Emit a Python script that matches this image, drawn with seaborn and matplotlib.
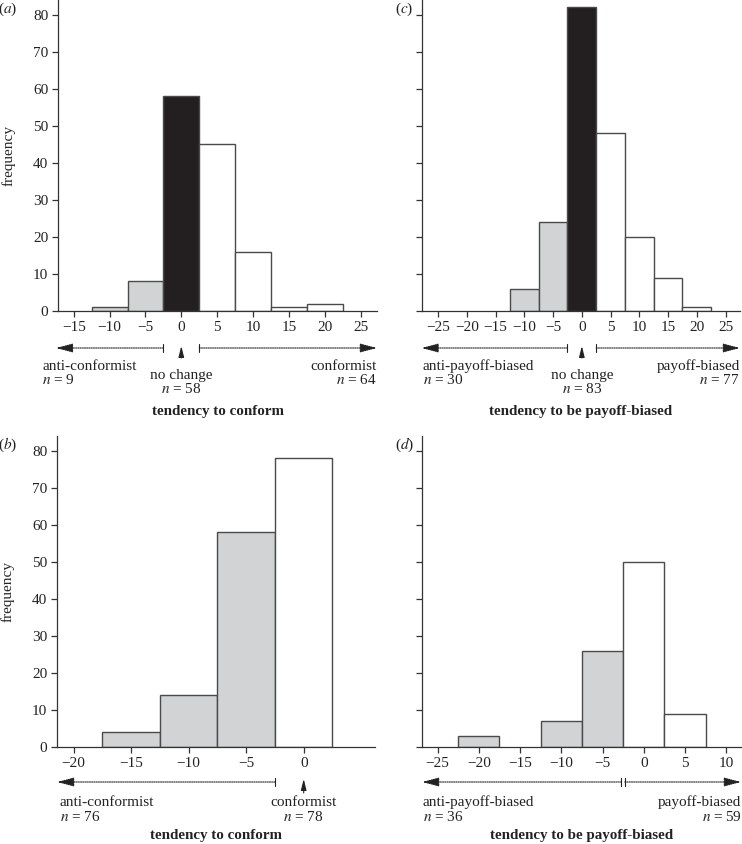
import matplotlib
matplotlib.use('Agg')

import matplotlib.pyplot as plt
import numpy as np
import pandas as pd
import seaborn as sns

# bin centres and counts
a_centers = [-10, -5, 0, 5, 10, 15, 20]
a_counts = [1, 8, 58, 45, 16, 1, 2]
a_groups = ['anti', 'anti', 'none', 'pro', 'pro', 'pro', 'pro']

b_centers = [-15, -10, -5, 0]
b_counts = [4, 14, 58, 78]
b_groups = ['anti', 'anti', 'anti', 'pro']

c_centers = [-10, -5, 0, 5, 10, 15, 20]
c_counts = [6, 24, 82, 48, 20, 9, 1]
c_groups = ['anti', 'anti', 'none', 'pro', 'pro', 'pro', 'pro']

d_centers = [-20, -10, -5, 0, 5]
d_counts = [3, 7, 26, 50, 9]
d_groups = ['anti', 'anti', 'anti', 'pro', 'pro']

y_ticks = [0, 10, 20, 30, 40, 50, 60, 70, 80]
a_xticks = [-15, -10, -5, 0, 5, 10, 15, 20, 25]
b_xticks = [-20, -15, -10, -5, 0]
c_xticks = [-25, -20, -15, -10, -5, 0, 5, 10, 15, 20, 25]
d_xticks = [-25, -20, -15, -10, -5, 0, 5, 10]

palette = {'anti': '#d1d3d4', 'none': '#231f20', 'pro': '#ffffff'}
EDGE = '#4a4a4a'
FIG_W, FIG_H = 742, 844

sns.set_style('ticks')
plt.rcParams['font.family'] = ['Liberation Serif', 'DejaVu Serif']
plt.rcParams['mathtext.fontset'] = 'stix'
plt.rcParams['font.size'] = 11
plt.rcParams['axes.edgecolor'] = '#333333'
plt.rcParams['xtick.color'] = '#333333'
plt.rcParams['ytick.color'] = '#333333'
plt.rcParams['xtick.labelcolor'] = '#222222'
plt.rcParams['ytick.labelcolor'] = '#222222'

fig = plt.figure(figsize=(FIG_W / 100, FIG_H / 100), dpi=100)


def px_axes(left, top, right, bottom):
    # pixel box -> figure fraction axes
    return fig.add_axes([left / FIG_W, 1 - bottom / FIG_H,
                         (right - left) / FIG_W, (bottom - top) / FIG_H])


def draw_hist(ax, centers, counts, groups, xlim, xticks, show_ylabels):
    df = pd.DataFrame({'x': centers, 'n': counts, 'g': groups})
    bins = [float(b) for b in np.arange(-27.5, 30, 5)]
    for g, sub in df.groupby('g'):
        sns.histplot(x=sub['x'].to_numpy(), weights=sub['n'].to_numpy(), bins=bins,
                     ax=ax, color=palette[g], alpha=1, edgecolor=EDGE, linewidth=1.0)
    # hide zero-height bars
    for p in ax.patches:
        if p.get_height() == 0:
            p.set_visible(False)
    ax.set_xlim(*xlim)
    ax.set_ylim(0, 84)
    ax.set_xticks(xticks)
    ax.set_xticklabels([str(t).replace('-', '\u2212') for t in xticks])
    ax.set_yticks(y_ticks)
    if show_ylabels:
        ax.set_ylabel('frequency', fontsize=11)
        ax.yaxis.set_label_coords(-0.132, 0.5)
    else:
        ax.set_yticklabels([])
        ax.set_ylabel('')
    ax.set_xlabel('')
    sns.despine(ax=ax)
    ax.tick_params(length=4, width=0.9, labelsize=11, pad=3)
    for s in ax.spines.values():
        s.set_linewidth(0.9)


def yf(ax, px):
    # pixels below the x axis -> axes fraction
    return -px / (ax.get_position().height * FIG_H)


def range_arrow(ax, x_from, x_tip, y_px, tick=True):
    tr = ax.get_xaxis_transform()
    y = yf(ax, y_px)
    ax.annotate('', xy=(x_tip, y), xytext=(x_from, y), xycoords=tr, textcoords=tr,
                arrowprops=dict(arrowstyle='-|>,head_length=0.95,head_width=0.25',
                                lw=0.8, ls=(0, (1, 1)), color='#222222',
                                shrinkA=0, shrinkB=0),
                annotation_clip=False)
    if tick:
        ax.plot([x_from, x_from], [y - yf(ax, -4), y + yf(ax, -4)], transform=tr,
                color='#222222', lw=0.8, clip_on=False)


def up_arrow(ax, x, y0_px, y1_px):
    tr = ax.get_xaxis_transform()
    ax.annotate('', xy=(x, yf(ax, y1_px)), xytext=(x, yf(ax, y0_px)),
                xycoords=tr, textcoords=tr,
                arrowprops=dict(arrowstyle='-|>,head_length=0.6,head_width=0.15',
                                lw=0.8, color='#222222', shrinkA=0, shrinkB=0),
                annotation_clip=False)


def label(ax, x, y_px, text, ha, **kw):
    ax.text(x, yf(ax, y_px), text, transform=ax.get_xaxis_transform(),
            ha=ha, va='center', fontsize=11, color='#222222', **kw)


def xtitle(ax, y_px, text):
    ax.text(0.5, yf(ax, y_px), text, transform=ax.transAxes, ha='center',
            va='center', fontsize=10.8, fontweight='bold', color='#222222')


# (a)
ax_a = px_axes(58, 0, 377, 311)
draw_hist(ax_a, a_centers, a_counts, a_groups, (-17.2, 27.3), a_xticks, True)
range_arrow(ax_a, -2.5, -17.5, 37)
range_arrow(ax_a, 2.5, 27.3, 37)
up_arrow(ax_a, 0, 47, 35)
label(ax_a, -19.4, 55, 'anti-conformist', 'left')
label(ax_a, -19.4, 69, r'$n$ = 9', 'left')
label(ax_a, 0, 64, 'no change', 'center')
label(ax_a, 0, 78, r'$n$ = 58', 'center')
label(ax_a, 27.3, 55, 'conformist', 'right')
label(ax_a, 27.3, 69, r'$n$ = 64', 'right')
xtitle(ax_a, 101, 'tendency to conform')

# (c)
ax_c = px_axes(422, 0, 740, 311)
draw_hist(ax_c, c_centers, c_counts, c_groups, (-27.8, 27.5), c_xticks, False)
range_arrow(ax_c, -2.5, -27.9, 37)
range_arrow(ax_c, 2.5, 27.5, 37)
up_arrow(ax_c, 0, 47, 35)
label(ax_c, -27.7, 55, 'anti-payoff-biased', 'left')
label(ax_c, -27.7, 69, r'$n$ = 30', 'left')
label(ax_c, 0, 65, 'no change', 'center')
label(ax_c, 0, 78, r'$n$ = 83', 'center')
label(ax_c, 27.5, 55, 'payoff-biased', 'right')
label(ax_c, 27.5, 69, r'$n$ = 77', 'right')
xtitle(ax_c, 100, 'tendency to be payoff-biased')

# (b)
ax_b = px_axes(57, 436, 375, 747)
draw_hist(ax_b, b_centers, b_counts, b_groups, (-21.45, 6.2), b_xticks, True)
range_arrow(ax_b, -2.5, -21.45, 35)
up_arrow(ax_b, 0, 46, 32)
label(ax_b, -21.2, 55, 'anti-conformist', 'left')
label(ax_b, -21.2, 70, r'$n$ = 76', 'left')
label(ax_b, 0, 55, 'conformist', 'center')
label(ax_b, 0, 70, r'$n$ = 78', 'center')
xtitle(ax_b, 88, 'tendency to conform')

# (d)
ax_d = px_axes(422, 436, 741, 747)
draw_hist(ax_d, d_centers, d_counts, d_groups, (-26.9, 11.8), d_xticks, False)
range_arrow(ax_d, -2.7, -26.9, 35)
range_arrow(ax_d, -2.3, 11.8, 35)
label(ax_d, -26.8, 55, 'anti-payoff-biased', 'left')
label(ax_d, -26.8, 70, r'$n$ = 36', 'left')
label(ax_d, 11.8, 55, 'payoff-biased', 'right')
label(ax_d, 11.8, 70, r'$n$ = 59', 'right')
xtitle(ax_d, 88, 'tendency to be payoff-biased')

# panel letters
for txt, xp, yp in [('a', 8, 9), ('c', 404, 9), ('b', 8, 445), ('d', 405, 445)]:
    fig.text(xp / FIG_W, 1 - yp / FIG_H, '($%s$)' % txt, ha='center', va='center',
             fontsize=11, color='#222222')

fig.savefig('out.png', dpi=100)
